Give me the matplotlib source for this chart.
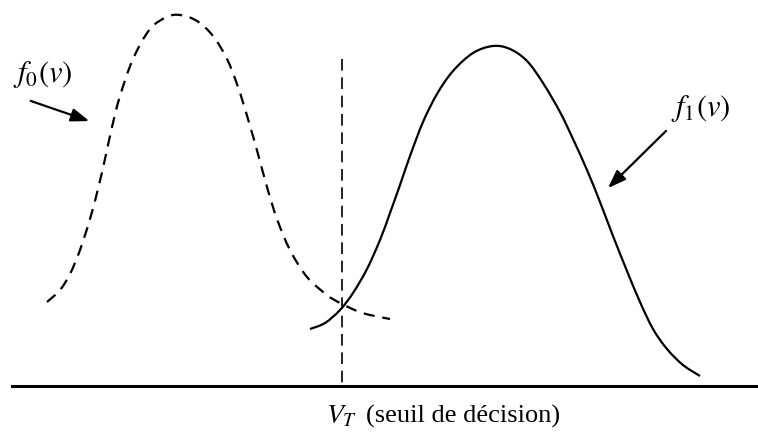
import matplotlib
matplotlib.use("Agg")
import matplotlib.pyplot as plt
from matplotlib.path import Path
from matplotlib.patches import PathPatch

plt.rcParams['mathtext.fontset'] = 'stix'

# f0(v): dashed curve (pixel-like units, y downward)
f0_x = [47, 60, 70, 80, 90, 98, 105, 112, 120, 133, 150, 167, 180, 197, 213,
        227, 238, 248, 258, 267, 277, 290, 307, 327, 340, 357, 370, 390]
f0_y = [303, 291, 275, 251, 220, 190, 160, 128, 97, 60, 30, 18, 16, 22, 37,
        60, 88, 120, 155, 188, 220, 251, 278, 296, 304, 312, 316, 320]

# f1(v): solid curve
f1_x = [310, 325, 340, 353, 367, 380, 390, 400, 410, 423, 437, 453, 473, 493,
        510, 527, 543, 560, 573, 587, 600, 613, 627, 640, 653, 667, 683, 700]
f1_y = [330, 324, 311, 294, 270, 241, 214, 186, 157, 123, 95, 72, 54, 47,
        50, 62, 84, 113, 140, 171, 203, 237, 272, 303, 330, 350, 366, 377]

# decision threshold V_T and axis
vt_x = 342
vt_top = 60
axis_y = 387
axis_x = [12, 758]


def smooth_path(xs, ys):
    """Bezier path through the read points (Catmull-Rom control points)."""
    pts = list(zip(xs, ys))
    verts = [pts[0]]
    codes = [Path.MOVETO]
    n = len(pts)
    for i in range(n - 1):
        p0 = pts[i - 1] if i > 0 else pts[i]
        p1 = pts[i]
        p2 = pts[i + 1]
        p3 = pts[i + 2] if i + 2 < n else pts[i + 1]
        c1 = (p1[0] + (p2[0] - p0[0]) / 6, p1[1] + (p2[1] - p0[1]) / 6)
        c2 = (p2[0] - (p3[0] - p1[0]) / 6, p2[1] - (p3[1] - p1[1]) / 6)
        verts += [c1, c2, p2]
        codes += [Path.CURVE4] * 3
    return Path(verts, codes)


fig = plt.figure(figsize=(7.58, 4.35), dpi=100)
ax = fig.add_axes([0, 0, 1, 1])
ax.set_xlim(0, 758)
ax.set_ylim(435, 0)
ax.axis('off')

ax.add_patch(PathPatch(smooth_path(f0_x, f0_y), fill=False, edgecolor='black',
                       lw=1.6, linestyle=(0, (5, 3.5))))
ax.add_patch(PathPatch(smooth_path(f1_x, f1_y), fill=False, edgecolor='black',
                       lw=1.6))
ax.plot([vt_x, vt_x], [vt_top, axis_y], color='black', lw=1.2, linestyle=(0, (7, 4)))
ax.plot(axis_x, [axis_y, axis_y], color='black', lw=2.2)

ax.text(13, 82, r'$f_0(v)$', fontsize=22, color='black')
ax.annotate('', xy=(92, 123), xytext=(28, 101),
            arrowprops=dict(arrowstyle='-|>,head_length=1.1,head_width=0.4',
                            color='black', lw=1.6))
ax.text(671, 116, r'$f_1(v)$', fontsize=22, color='black')
ax.annotate('', xy=(606, 191), xytext=(668, 130),
            arrowprops=dict(arrowstyle='-|>,head_length=1.1,head_width=0.4',
                            color='black', lw=1.6))

ax.text(326, 423, r'$V_T$', fontsize=20, color='black')
ax.text(366, 423, '(seuil de décision)', fontsize=19, color='black',
        family='Liberation Serif')

fig.savefig('out.png', dpi=100)
